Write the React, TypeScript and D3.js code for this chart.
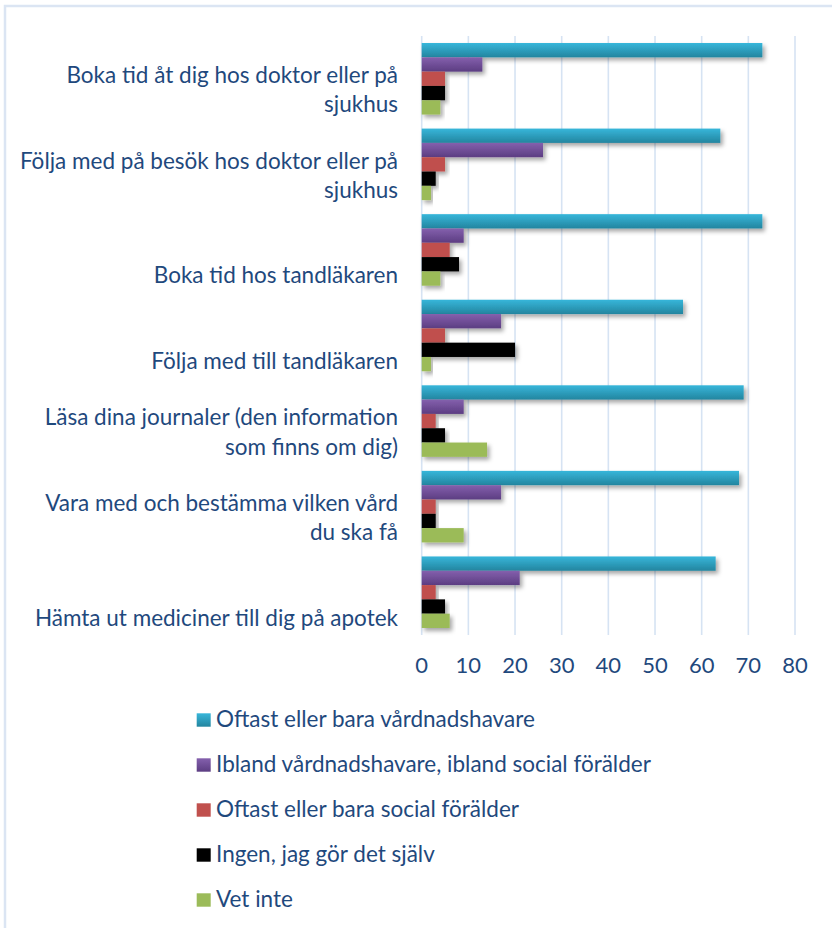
import React from "react";
import * as d3 from "d3";

const categories = [
  "Boka tid åt dig hos doktor eller på\nsjukhus",
  "Följa med på besök hos doktor eller på\nsjukhus",
  "Boka tid hos tandläkaren",
  "Följa med till tandläkaren",
  "Läsa dina journaler (den information\nsom finns om dig)",
  "Vara med och bestämma vilken vård\ndu ska få",
  "Hämta ut mediciner till dig på apotek",
];

const seriesNames = [
  "Oftast eller bara vårdnadshavare",
  "Ibland vårdnadshavare, ibland social förälder",
  "Oftast eller bara social förälder",
  "Ingen, jag gör det själv",
  "Vet inte",
];

const vardnadshavare = [73, 64, 73, 56, 69, 68, 63];
const ibland = [13, 26, 9, 17, 9, 17, 21];
const socialForalder = [5, 5, 6, 5, 3, 3, 3];
const sjalv = [5, 3, 8, 20, 5, 3, 5];
const vetInte = [4, 2, 4, 2, 14, 9, 6];

const seriesValues = [vardnadshavare, ibland, socialForalder, sjalv, vetInte];

const xTicks = [0, 10, 20, 30, 40, 50, 60, 70, 80];

const colorsTop = ["#37b6da", "#8460ad", "#c0504d", "#000000", "#9bbb59"];
const colorsBottom = ["#23859f", "#5c3d82", "#c0504d", "#000000", "#9bbb59"];

const W = 832;
const H = 928;
const FONT = "Lato, 'Noto Sans', sans-serif";
const TEXT = "#1f497d";

export default function App() {
  const x = d3.scaleLinear().domain([0, 80]).range([421.7, 795]);
  const y0 = d3
    .scaleBand<number>()
    .domain(d3.range(categories.length))
    .range([36, 635])
    .padding(0);
  const y1 = d3
    .scaleBand<number>()
    .domain(d3.range(seriesNames.length))
    .range([0, y0.bandwidth()])
    .paddingInner(0)
    .paddingOuter(0.49);

  return (
    <svg
      width={W}
      height={H}
      style={{ position: "absolute", left: 0, top: 0, background: "#fff" }}
    >
      <defs>
        {colorsTop.map((c, i) => (
          <linearGradient key={i} id={`g${i}`} x1="0" y1="0" x2="0" y2="1">
            <stop offset="0" stopColor={c} />
            <stop offset="1" stopColor={colorsBottom[i]} />
          </linearGradient>
        ))}
        <filter id="sh" x="-10%" y="-50%" width="130%" height="220%">
          <feDropShadow dx="2.5" dy="3" stdDeviation="2" floodColor="#000" floodOpacity="0.35" />
        </filter>
      </defs>
      <rect x={5} y={6} width={W + 10} height={H + 10} fill="#fff" stroke="#dbe5f3" strokeWidth={2.5} />

      {/* gridlines */}
      {xTicks.map((t) => (
        <line
          key={t}
          x1={x(t)}
          x2={x(t)}
          y1={36}
          y2={635}
          stroke="#d6e3f3"
          strokeWidth={1.6}
        />
      ))}

      {/* bars */}
      {categories.map((c, ci) => (
        <g key={ci} transform={`translate(0,${y0(ci)})`}>
          {seriesValues.map((vals, si) => (
            <rect
              key={si}
              x={x(0)}
              y={y1(si)}
              width={x(vals[ci]) - x(0)}
              height={y1.bandwidth()}
              fill={`url(#g${si})`}
              filter="url(#sh)"
            />
          ))}
        </g>
      ))}

      {/* category labels */}
      {categories.map((c, ci) => {
        const lines = c.split("\n");
        const center = (y0(ci) as number) + y0.bandwidth() / 2;
        const lastBase = center + 33.5;
        return (
          <text
            key={ci}
            textAnchor="end"
            fontFamily={FONT}
            fontSize={22.5}
            fill={TEXT}
          >
            {lines.map((l, li) => (
              <tspan key={li} x={398} y={lastBase - (lines.length - 1 - li) * 29.3}>
                {l}
              </tspan>
            ))}
          </text>
        );
      })}

      {/* x tick labels */}
      {xTicks.map((t) => (
        <text
          key={t}
          x={x(t)}
          y={673}
          textAnchor="middle"
          fontFamily={FONT}
          fontSize={22}
          fill={TEXT}
        >
          {t}
        </text>
      ))}

      {/* legend */}
      {seriesNames.map((s, i) => (
        <g key={i} transform={`translate(0,${i * 45})`}>
          <rect x={196.7} y={713.3} width={14} height={13.4} fill={`url(#g${i})`} />
          <text x={216} y={727} fontFamily={FONT} fontSize={22.5} fill={TEXT}>
            {s}
          </text>
        </g>
      ))}
    </svg>
  );
}
